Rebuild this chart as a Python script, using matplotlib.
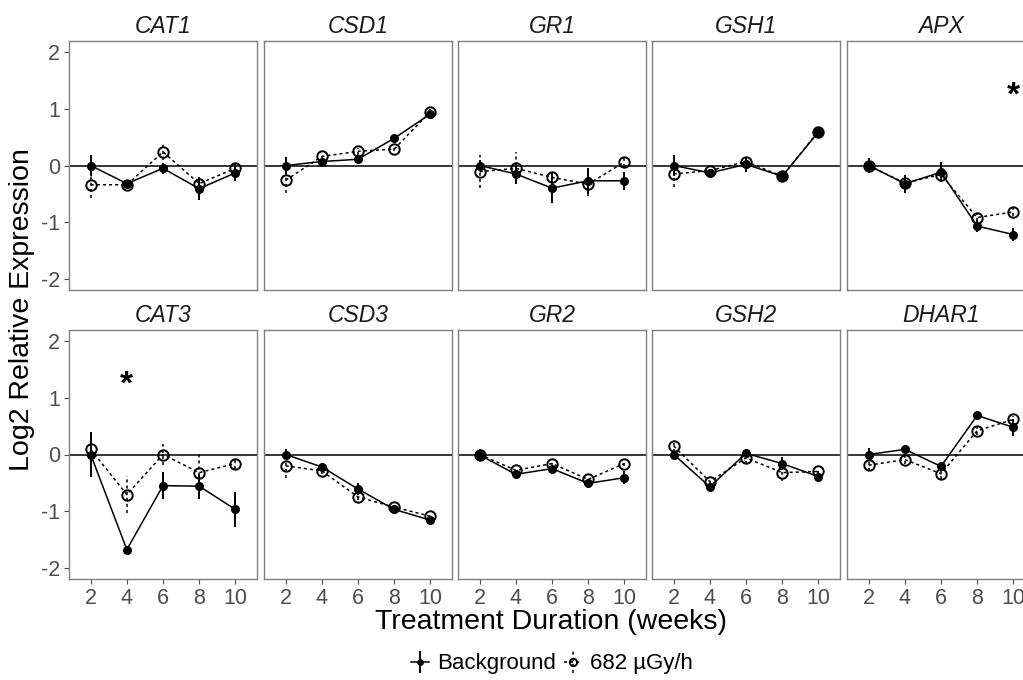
import matplotlib

matplotlib.use("Agg")
import matplotlib.pyplot as plt

plt.rcParams["font.family"] = ["Liberation Sans", "DejaVu Sans"]
plt.rcParams["axes.unicode_minus"] = False

WEEKS = [2, 4, 6, 8, 10]

GENES_ROW1 = ["CAT1", "CSD1", "GR1", "GSH1", "APX"]
GENES_ROW2 = ["CAT3", "CSD3", "GR2", "GSH2", "DHAR1"]

# mean log2 expression, background group
bkg_mean = {
    "CAT1": [0.0, -0.32, -0.05, -0.41, -0.13],
    "CSD1": [0.0, 0.07, 0.11, 0.48, 0.91],
    "GR1": [0.0, -0.15, -0.40, -0.27, -0.27],
    "GSH1": [0.0, -0.13, 0.02, -0.19, 0.59],
    "APX": [0.0, -0.32, -0.12, -1.07, -1.22],
    "CAT3": [0.0, -1.68, -0.55, -0.56, -0.97],
    "CSD3": [0.0, -0.22, -0.61, -0.97, -1.16],
    "GR2": [-0.01, -0.35, -0.25, -0.51, -0.41],
    "GSH2": [0.0, -0.57, 0.02, -0.16, -0.39],
    "DHAR1": [0.0, 0.09, -0.21, 0.69, 0.48],
}
bkg_err = {
    "CAT1": [0.18, 0.05, 0.10, 0.20, 0.15],
    "CSD1": [0.15, 0.05, 0.06, 0.04, 0.08],
    "GR1": [0.10, 0.18, 0.26, 0.23, 0.16],
    "GSH1": [0.18, 0.05, 0.13, 0.04, 0.08],
    "APX": [0.14, 0.16, 0.18, 0.10, 0.12],
    "CAT3": [0.40, 0.03, 0.24, 0.22, 0.31],
    "CSD3": [0.10, 0.07, 0.10, 0.08, 0.08],
    "GR2": [0.10, 0.04, 0.05, 0.04, 0.12],
    "GSH2": [0.06, 0.03, 0.06, 0.12, 0.10],
    "DHAR1": [0.12, 0.08, 0.06, 0.06, 0.15],
}

# mean log2 expression, 682 uGy/h group
dose_mean = {
    "CAT1": [-0.34, -0.34, 0.24, -0.32, -0.05],
    "CSD1": [-0.26, 0.16, 0.25, 0.29, 0.95],
    "GR1": [-0.11, -0.05, -0.21, -0.33, 0.06],
    "GSH1": [-0.15, -0.09, 0.07, -0.19, 0.60],
    "APX": [0.0, -0.31, -0.16, -0.92, -0.82],
    "CAT3": [0.09, -0.71, 0.0, -0.32, -0.16],
    "CSD3": [-0.20, -0.29, -0.75, -0.93, -1.09],
    "GR2": [0.0, -0.28, -0.16, -0.44, -0.16],
    "GSH2": [0.15, -0.48, -0.06, -0.32, -0.30],
    "DHAR1": [-0.19, -0.09, -0.34, 0.42, 0.62],
}
dose_err = {
    "CAT1": [0.24, 0.05, 0.15, 0.10, 0.08],
    "CSD1": [0.22, 0.05, 0.06, 0.04, 0.05],
    "GR1": [0.29, 0.28, 0.06, 0.21, 0.09],
    "GSH1": [0.23, 0.05, 0.06, 0.04, 0.05],
    "APX": [0.10, 0.06, 0.08, 0.06, 0.08],
    "CAT3": [0.10, 0.33, 0.19, 0.37, 0.10],
    "CSD3": [0.22, 0.05, 0.05, 0.04, 0.05],
    "GR2": [0.06, 0.04, 0.04, 0.05, 0.05],
    "GSH2": [0.10, 0.04, 0.10, 0.15, 0.05],
    "DHAR1": [0.10, 0.08, 0.10, 0.08, 0.06],
}

# significance marks: gene -> week
STARS = {"APX": 10, "CAT3": 4}
STAR_Y = 1.22  # text baseline-ish position; the glyph sits high in its box

FIG_W, FIG_H = 1023, 680
COL_LEFT = [69, 264, 458, 652, 847]
PANEL_W = 188
ROW_TOP = [41, 330]
PANEL_H = 249

FRAME_COLOR = "#7f7f7f"
TICK_COLOR = "#4d4d4d"
DOTTED = (0, (2, 2))


def draw_panel(ax, gene, show_x, show_y):
    ax.axhline(0, color="black", linewidth=1.1, zorder=1)

    eb_dose = ax.errorbar(
        WEEKS, dose_mean[gene], yerr=dose_err[gene], color="black",
        linestyle=DOTTED, linewidth=1.1, marker="o", markersize=7.5,
        markerfacecolor="none", markeredgewidth=1.4, capsize=0, elinewidth=1.1,
        zorder=3,
    )
    eb_dose[2][0].set_linestyle(DOTTED)

    eb_bkg = ax.errorbar(
        WEEKS, bkg_mean[gene], yerr=bkg_err[gene], color="black",
        linestyle="-", linewidth=1.1, marker="o", markersize=5.5, capsize=0,
        elinewidth=1.4, zorder=4,
    )

    if gene in STARS:
        ax.text(STARS[gene], STAR_Y, "*", ha="center", va="center",
                fontsize=24, fontweight="bold")

    ax.set_xlim(0.8, 11.2)
    ax.set_ylim(-2.2, 2.2)
    ax.set_xticks(WEEKS)
    ax.set_yticks([-2, -1, 0, 1, 2])
    ax.tick_params(colors=TICK_COLOR, labelcolor=TICK_COLOR, labelsize=15.5,
                   length=3.5, width=0.8, pad=3)
    if not show_x:
        ax.tick_params(axis="x", bottom=False, labelbottom=False)
    if not show_y:
        ax.tick_params(axis="y", left=False, labelleft=False)
    for spine in ax.spines.values():
        spine.set_color(FRAME_COLOR)
        spine.set_linewidth(1.0)
    ax.set_title(gene, fontsize=16.5, style="italic", color="#1a1a1a", pad=6)
    return eb_bkg, eb_dose


fig = plt.figure(figsize=(FIG_W / 100, FIG_H / 100), dpi=100)

handles = None
for row, genes in enumerate([GENES_ROW1, GENES_ROW2]):
    for col, gene in enumerate(genes):
        left = COL_LEFT[col] / FIG_W
        bottom = 1 - (ROW_TOP[row] + PANEL_H) / FIG_H
        ax = fig.add_axes([left, bottom, PANEL_W / FIG_W, PANEL_H / FIG_H])
        handles = draw_panel(ax, gene, show_x=(row == 1), show_y=(col == 0))

fig.text(22 / FIG_W, 1 - 310 / FIG_H, "Log2 Relative Expression", rotation=90,
         ha="center", va="center", fontsize=20.5)
fig.text(551 / FIG_W, 1 - 622 / FIG_H, "Treatment Duration (weeks)",
         ha="center", va="center", fontsize=20.5)

fig.legend(
    handles, ["Background", "682 µGy/h"], loc="center",
    bbox_to_anchor=(552 / FIG_W, 1 - 664 / FIG_H), ncol=2, frameon=False,
    fontsize=16, handlelength=0.8, handletextpad=0.35, columnspacing=0.4,
    markerscale=0.7,
)

fig.savefig("out.png", dpi=100)
